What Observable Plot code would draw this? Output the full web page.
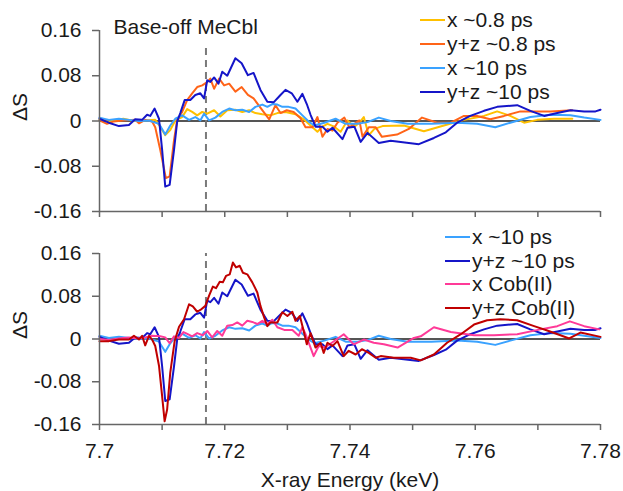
<!DOCTYPE html>
<html><head><meta charset="utf-8">
<script src="https://cdn.jsdelivr.net/npm/d3@7"></script>
<script src="https://cdn.jsdelivr.net/npm/@observablehq/plot@0.6"></script>
<style>
body{margin:0;background:#fff;}
#chart{position:relative;width:623px;height:491px;font-family:"Liberation Sans",Arial,sans-serif;color:#1a1a1a;}
#chart svg{position:absolute;left:0;}
.legend{position:absolute;font-size:21px;}
.legend .row{display:flex;align-items:center;white-space:nowrap;}
.legend .sw{display:inline-block;width:25px;height:2px;margin-right:2px;}
</style></head><body><div id="chart"></div>
<script>
// ---- data (energy keV, ΔS) ----
const x08 = [[7.7000,0.002],[7.7015,-0.001],[7.7038,0.004],[7.7055,0.000],[7.7073,0.001],[7.7089,0.002],[7.7097,-0.010],[7.7105,-0.025],[7.7113,-0.016],[7.7121,0.001],[7.7132,0.007],[7.7140,0.021],[7.7148,0.016],[7.7156,0.010],[7.7164,0.016],[7.7172,0.013],[7.7183,0.019],[7.7193,0.008],[7.7204,0.019],[7.7217,0.020],[7.7228,0.016],[7.7239,0.019],[7.7249,0.014],[7.7260,0.012],[7.7273,0.010],[7.7284,0.014],[7.7297,0.016],[7.7313,0.012],[7.7326,0.003],[7.7337,-0.008],[7.7348,-0.019],[7.7356,-0.010],[7.7364,-0.005],[7.7375,-0.010],[7.7385,-0.019],[7.7396,0.001],[7.7407,-0.010],[7.7415,-0.003],[7.7422,0.007],[7.7430,-0.025],[7.7439,-0.014],[7.7452,-0.009],[7.7486,-0.008],[7.7518,-0.018],[7.7550,-0.008],[7.7582,0.002],[7.7614,0.009],[7.7635,0.017],[7.7656,0.009],[7.7678,-0.003],[7.7699,0.002],[7.7726,0.004],[7.7755,0.004]];
const yz08 = [[7.7000,0.001],[7.7012,-0.005],[7.7022,-0.001],[7.7038,0.001],[7.7057,0.002],[7.7063,-0.004],[7.7073,0.002],[7.7084,-0.001],[7.7089,-0.011],[7.7097,-0.051],[7.7106,-0.101],[7.7112,-0.098],[7.7119,-0.034],[7.7124,0.002],[7.7132,0.016],[7.7140,0.037],[7.7148,0.049],[7.7156,0.060],[7.7164,0.063],[7.7172,0.069],[7.7177,0.075],[7.7183,0.057],[7.7191,0.075],[7.7199,0.063],[7.7207,0.066],[7.7217,0.052],[7.7227,0.060],[7.7237,0.046],[7.7246,0.040],[7.7254,0.028],[7.7262,0.016],[7.7271,0.003],[7.7281,0.028],[7.7289,0.014],[7.7299,0.019],[7.7310,0.016],[7.7321,0.005],[7.7329,-0.011],[7.7340,-0.011],[7.7348,0.007],[7.7356,-0.028],[7.7364,-0.014],[7.7372,-0.017],[7.7380,-0.003],[7.7391,0.006],[7.7399,-0.011],[7.7407,-0.005],[7.7415,0.001],[7.7420,-0.028],[7.7430,-0.011],[7.7441,-0.011],[7.7451,-0.028],[7.7475,-0.024],[7.7494,-0.014],[7.7515,0.006],[7.7539,-0.003],[7.7561,-0.003],[7.7582,0.009],[7.7603,0.009],[7.7624,0.003],[7.7646,0.009],[7.7672,0.017],[7.7699,0.017],[7.7720,0.017],[7.7755,0.019]];
const x10 = [[7.7000,0.006],[7.7015,0.002],[7.7031,0.004],[7.7047,0.002],[7.7063,0.000],[7.7079,0.001],[7.7095,-0.005],[7.7105,-0.024],[7.7113,-0.008],[7.7121,0.004],[7.7132,0.010],[7.7143,0.002],[7.7153,0.007],[7.7161,0.001],[7.7167,0.013],[7.7175,0.001],[7.7185,0.006],[7.7196,0.016],[7.7207,0.022],[7.7217,0.019],[7.7228,0.020],[7.7239,0.016],[7.7249,0.025],[7.7260,0.029],[7.7268,0.025],[7.7276,0.030],[7.7284,0.029],[7.7292,0.025],[7.7302,0.025],[7.7313,0.022],[7.7324,0.010],[7.7334,-0.001],[7.7343,-0.008],[7.7359,-0.003],[7.7377,0.004],[7.7393,-0.005],[7.7412,-0.005],[7.7428,-0.002],[7.7446,0.006],[7.7465,0.000],[7.7492,-0.005],[7.7530,-0.005],[7.7571,-0.003],[7.7603,-0.005],[7.7632,-0.011],[7.7656,-0.003],[7.7688,0.007],[7.7720,0.011],[7.7752,0.010],[7.7774,0.006],[7.7800,0.002]];
const yz10 = [[7.7000,0.004],[7.7015,-0.003],[7.7031,-0.009],[7.7047,-0.007],[7.7057,0.003],[7.7068,0.002],[7.7076,0.011],[7.7081,0.009],[7.7088,0.022],[7.7095,0.004],[7.7100,-0.051],[7.7105,-0.116],[7.7112,-0.113],[7.7119,-0.051],[7.7124,-0.001],[7.7129,0.014],[7.7136,0.037],[7.7145,0.037],[7.7153,0.046],[7.7161,0.049],[7.7167,0.040],[7.7172,0.072],[7.7177,0.069],[7.7183,0.077],[7.7190,0.066],[7.7196,0.087],[7.7204,0.080],[7.7217,0.111],[7.7227,0.102],[7.7237,0.081],[7.7246,0.085],[7.7257,0.055],[7.7268,0.034],[7.7278,0.033],[7.7289,0.046],[7.7297,0.055],[7.7307,0.049],[7.7316,0.034],[7.7324,0.048],[7.7331,0.030],[7.7337,0.011],[7.7345,-0.010],[7.7356,-0.010],[7.7364,-0.019],[7.7372,-0.012],[7.7388,-0.032],[7.7396,-0.012],[7.7407,-0.010],[7.7417,-0.037],[7.7428,-0.021],[7.7446,-0.039],[7.7465,-0.035],[7.7510,-0.041],[7.7534,-0.030],[7.7553,-0.020],[7.7571,-0.003],[7.7592,0.009],[7.7614,0.018],[7.7635,0.025],[7.7667,0.028],[7.7688,0.018],[7.7710,0.009],[7.7731,0.014],[7.7752,0.019],[7.7774,0.017],[7.7792,0.017],[7.7800,0.020]];
const xCob = [[7.7000,0.000],[7.7015,-0.002],[7.7031,0.001],[7.7047,0.003],[7.7063,0.001],[7.7073,0.003],[7.7084,0.006],[7.7097,0.005],[7.7105,0.003],[7.7112,-0.008],[7.7119,0.005],[7.7127,0.002],[7.7134,0.013],[7.7141,0.009],[7.7148,0.005],[7.7156,0.011],[7.7165,0.007],[7.7172,0.015],[7.7180,0.003],[7.7188,0.015],[7.7196,0.006],[7.7204,0.025],[7.7212,0.026],[7.7220,0.031],[7.7228,0.025],[7.7236,0.034],[7.7244,0.032],[7.7252,0.028],[7.7260,0.034],[7.7268,0.028],[7.7276,0.036],[7.7284,0.022],[7.7295,0.017],[7.7308,0.017],[7.7318,0.006],[7.7324,0.022],[7.7329,0.009],[7.7342,-0.032],[7.7350,-0.013],[7.7360,-0.016],[7.7371,-0.007],[7.7390,0.009],[7.7406,-0.010],[7.7422,-0.001],[7.7438,-0.007],[7.7454,-0.010],[7.7476,-0.016],[7.7502,0.002],[7.7513,0.005],[7.7534,0.022],[7.7561,0.013],[7.7598,0.007],[7.7630,0.007],[7.7667,0.009],[7.7704,0.018],[7.7731,0.024],[7.7751,0.033],[7.7774,0.024],[7.7798,0.018]];
const yzCob = [[7.7000,-0.004],[7.7015,-0.004],[7.7031,-0.001],[7.7047,-0.001],[7.7055,0.006],[7.7063,-0.001],[7.7068,0.006],[7.7073,-0.012],[7.7079,0.006],[7.7084,-0.001],[7.7089,-0.013],[7.7095,-0.050],[7.7100,-0.107],[7.7104,-0.154],[7.7108,-0.132],[7.7113,-0.063],[7.7120,-0.004],[7.7127,0.023],[7.7135,0.037],[7.7143,0.065],[7.7149,0.061],[7.7156,0.051],[7.7163,0.056],[7.7169,0.062],[7.7175,0.081],[7.7181,0.098],[7.7186,0.095],[7.7192,0.107],[7.7197,0.106],[7.7202,0.118],[7.7208,0.121],[7.7213,0.143],[7.7218,0.134],[7.7224,0.137],[7.7229,0.124],[7.7236,0.121],[7.7244,0.106],[7.7252,0.087],[7.7257,0.062],[7.7263,0.040],[7.7268,0.024],[7.7273,0.031],[7.7284,0.031],[7.7292,0.050],[7.7300,0.043],[7.7308,0.051],[7.7313,0.034],[7.7320,0.043],[7.7326,0.015],[7.7331,-0.010],[7.7337,0.011],[7.7345,-0.016],[7.7353,-0.007],[7.7358,-0.026],[7.7364,-0.007],[7.7372,-0.013],[7.7380,-0.004],[7.7390,-0.032],[7.7398,-0.022],[7.7409,-0.029],[7.7419,-0.019],[7.7430,-0.026],[7.7441,-0.035],[7.7449,-0.032],[7.7470,-0.035],[7.7497,-0.035],[7.7513,-0.040],[7.7534,-0.029],[7.7555,-0.007],[7.7577,0.009],[7.7598,0.027],[7.7619,0.035],[7.7640,0.037],[7.7667,0.035],[7.7694,0.024],[7.7715,0.016],[7.7736,0.007],[7.7750,0.001],[7.7768,0.012],[7.7800,0.004]];

const topNames = ["x ~0.8 ps", "y+z ~0.8 ps", "x ~10 ps", "y+z ~10 ps"];
const bottomNames = ["x ~10 ps", "y+z ~10 ps", "x Cob(II)", "y+z Cob(II)"];
const xTicks = [7.70, 7.71, 7.72, 7.73, 7.74, 7.75, 7.76, 7.77, 7.78];
const xLabelValues = [7.70, 7.72, 7.74, 7.76, 7.78];
const xTickLabels = ["7.7", "7.72", "7.74", "7.76", "7.78"];
const yTicks = [-0.16, -0.08, 0, 0.08, 0.16];
const yTickLabels = ["-0.16", "-0.08", "0", "0.08", "0.16"];
const dashedE = 7.717;
const panelTitle = "Base-off MeCbl";
const xTitle = "X-ray Energy (keV)";
const yTitle = "ΔS";

const C = {yellow:"#FFC000", orange:"#FF6418", lblue:"#3AA2FF", dblue:"#1515C8", pink:"#FF3A98", dred:"#C00000"};
const topSeries = [
  {name: topNames[0], data: x08, color: C.yellow},
  {name: topNames[1], data: yz08, color: C.orange},
  {name: topNames[2], data: x10, color: C.lblue},
  {name: topNames[3], data: yz10, color: C.dblue}
];
const bottomSeries = [
  {name: bottomNames[0], data: x10, color: C.lblue},
  {name: bottomNames[1], data: yz10, color: C.dblue},
  {name: bottomNames[2], data: xCob, color: C.pink},
  {name: bottomNames[3], data: yzCob, color: C.dred}
];

const fontFamily = '"Liberation Sans", Arial, sans-serif';
const axisColor = "#666";
const textColor = "#1a1a1a";

function xLabel(d) {
  const i = xLabelValues.findIndex(v => Math.abs(v - d) < 1e-9);
  return i >= 0 ? xTickLabels[i] : "";
}
function yLabel(d) {
  const i = yTicks.findIndex(v => Math.abs(v - d) < 1e-9);
  return i >= 0 ? yTickLabels[i] : "";
}

function panel({series, height, marginTop, marginBottom, bottom, dashTop, title}) {
  const marks = [
    Plot.ruleY([0], {stroke: "#555", strokeWidth: 2}),
    Plot.ruleX([dashedE], {y1: yTicks[0], y2: dashTop, stroke: "#7a7a7a", strokeWidth: 2, strokeDasharray: "7,5"}),
    ...series.map(s => Plot.line(s.data, {x: d => d[0], y: d => d[1], stroke: s.color, strokeWidth: 2})),
    Plot.ruleX([xTicks[0]], {stroke: axisColor, strokeWidth: 1.5}),
    Plot.ruleY([yTicks[0]], {stroke: axisColor, strokeWidth: 1.5}),
    Plot.axisY(yTicks, {tickSize: 7, tickPadding: 11, tickFormat: yLabel, label: null, stroke: axisColor, fill: textColor, strokeWidth: 1.5}),
    bottom
      ? Plot.axisX(xTicks, {tickSize: 6, tickPadding: 13, tickFormat: xLabel, label: null, stroke: axisColor, fill: textColor, strokeWidth: 1.5})
      : Plot.axisX(xTicks, {tickSize: 6, tickFormat: () => "", label: null, stroke: axisColor, strokeWidth: 1.5}),
    Plot.text([yTitle], {frameAnchor: "left", dx: -79, rotate: -90, fill: textColor, fontSize: 21})
  ];
  if (title) marks.push(Plot.text([title], {frameAnchor: "top-left", dx: 14, dy: 3, textAnchor: "start", lineAnchor: "bottom", fill: textColor, fontSize: 21}));
  if (bottom) marks.push(Plot.text([xTitle], {frameAnchor: "bottom", dy: 62, lineAnchor: "bottom", fill: textColor, fontSize: 21}));
  return Plot.plot({
    width: 623, height, marginLeft: 99, marginRight: 23, marginTop, marginBottom,
    x: {domain: [xTicks[0], xTicks[xTicks.length - 1]]},
    y: {domain: [yTicks[0], yTicks[yTicks.length - 1]]},
    style: {fontFamily, fontSize: "21px", background: "transparent", overflow: "visible"},
    marks
  });
}

const chart = document.getElementById("chart");
const top1 = panel({series: topSeries, height: 222, marginTop: 30, marginBottom: 11, bottom: false, dashTop: 0.135, title: panelTitle});
top1.style.top = "0px";
const bot = panel({series: bottomSeries, height: 269, marginTop: 31, marginBottom: 67, bottom: true, dashTop: yTicks[yTicks.length - 1]});
bot.style.top = "222px";
chart.appendChild(top1);
chart.appendChild(bot);

function legend(series, left, top, rowH) {
  const el = document.createElement("div");
  el.className = "legend";
  el.style.left = left + "px";
  el.style.top = top + "px";
  for (const s of series) {
    const r = document.createElement("div");
    r.className = "row";
    r.style.height = rowH + "px";
    const sw = document.createElement("span");
    sw.className = "sw";
    sw.style.background = s.color;
    r.appendChild(sw);
    r.appendChild(document.createTextNode(s.name));
    el.appendChild(r);
  }
  chart.appendChild(el);
}
legend(topSeries, 420, 8, 24);
legend(bottomSeries, 445, 225, 23.7);
</script></body></html>
